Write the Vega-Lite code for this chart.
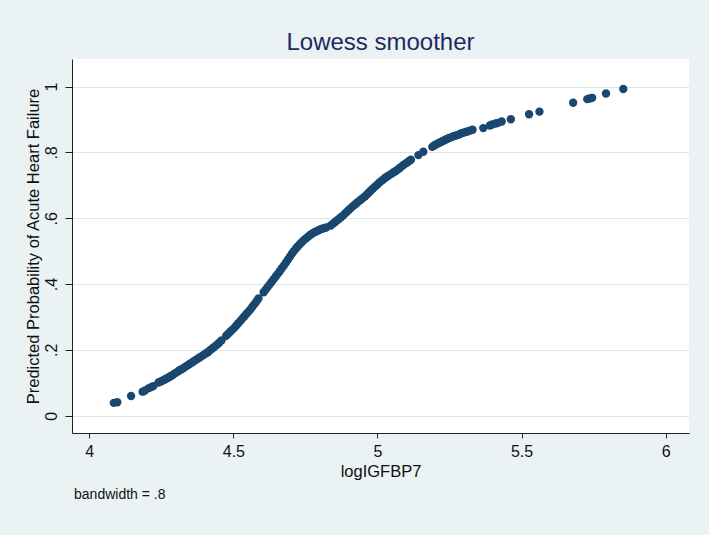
{
  "$schema": "https://vega.github.io/schema/vega-lite/v6.json",
  "width": 617,
  "height": 374,
  "autosize": {"type": "none"},
  "padding": {"left": 72, "top": 59, "right": 20, "bottom": 102},
  "background": "#EAF2F3",
  "title": {
    "text": "Lowess smoother",
    "font": "Liberation Sans",
    "fontSize": 24,
    "fontWeight": "normal",
    "color": "#1E2A5C",
    "anchor": "middle",
    "baseline": "alphabetic",
    "offset": 8,
    "dy": 23
  },
  "config": {
    "view": {"fill": "white", "stroke": null},
    "axis": {
      "labelFont": "Liberation Sans",
      "titleFont": "Liberation Sans",
      "labelColor": "#111111",
      "titleColor": "#111111",
      "domainColor": "#222222",
      "tickColor": "#222222",
      "labelFontSize": 16,
      "titleFontSize": 16.5,
      "titleFontWeight": "normal"
    }
  },
  "data": {
    "values": [
      {"logIGFBP7": 4.085, "p": 0.039}, {"logIGFBP7": 4.097, "p": 0.041},
      {"logIGFBP7": 4.145, "p": 0.060}, {"logIGFBP7": 4.185, "p": 0.073},
      {"logIGFBP7": 4.192, "p": 0.076}, {"logIGFBP7": 4.205, "p": 0.083},
      {"logIGFBP7": 4.215, "p": 0.087}, {"logIGFBP7": 4.222, "p": 0.090},
      {"logIGFBP7": 4.240, "p": 0.101}, {"logIGFBP7": 4.248, "p": 0.104},
      {"logIGFBP7": 4.255, "p": 0.107}, {"logIGFBP7": 4.262, "p": 0.110},
      {"logIGFBP7": 4.268, "p": 0.113}, {"logIGFBP7": 4.275, "p": 0.116},
      {"logIGFBP7": 4.281, "p": 0.120}, {"logIGFBP7": 4.288, "p": 0.123},
      {"logIGFBP7": 4.294, "p": 0.127}, {"logIGFBP7": 4.300, "p": 0.130},
      {"logIGFBP7": 4.307, "p": 0.134}, {"logIGFBP7": 4.313, "p": 0.138},
      {"logIGFBP7": 4.320, "p": 0.141}, {"logIGFBP7": 4.327, "p": 0.145},
      {"logIGFBP7": 4.334, "p": 0.149}, {"logIGFBP7": 4.341, "p": 0.153},
      {"logIGFBP7": 4.348, "p": 0.157}, {"logIGFBP7": 4.355, "p": 0.161},
      {"logIGFBP7": 4.362, "p": 0.165}, {"logIGFBP7": 4.369, "p": 0.169},
      {"logIGFBP7": 4.376, "p": 0.173}, {"logIGFBP7": 4.383, "p": 0.177},
      {"logIGFBP7": 4.390, "p": 0.181}, {"logIGFBP7": 4.397, "p": 0.185},
      {"logIGFBP7": 4.404, "p": 0.189}, {"logIGFBP7": 4.411, "p": 0.193},
      {"logIGFBP7": 4.418, "p": 0.198}, {"logIGFBP7": 4.425, "p": 0.203},
      {"logIGFBP7": 4.432, "p": 0.208}, {"logIGFBP7": 4.439, "p": 0.213},
      {"logIGFBP7": 4.446, "p": 0.218}, {"logIGFBP7": 4.452, "p": 0.223},
      {"logIGFBP7": 4.459, "p": 0.229},
      {"logIGFBP7": 4.475, "p": 0.243}, {"logIGFBP7": 4.482, "p": 0.249},
      {"logIGFBP7": 4.489, "p": 0.255}, {"logIGFBP7": 4.496, "p": 0.261},
      {"logIGFBP7": 4.503, "p": 0.267}, {"logIGFBP7": 4.510, "p": 0.274},
      {"logIGFBP7": 4.517, "p": 0.281}, {"logIGFBP7": 4.524, "p": 0.288},
      {"logIGFBP7": 4.531, "p": 0.295}, {"logIGFBP7": 4.538, "p": 0.302},
      {"logIGFBP7": 4.545, "p": 0.309}, {"logIGFBP7": 4.552, "p": 0.316},
      {"logIGFBP7": 4.559, "p": 0.323}, {"logIGFBP7": 4.566, "p": 0.331},
      {"logIGFBP7": 4.573, "p": 0.339}, {"logIGFBP7": 4.580, "p": 0.347},
      {"logIGFBP7": 4.587, "p": 0.356},
      {"logIGFBP7": 4.605, "p": 0.375}, {"logIGFBP7": 4.612, "p": 0.383},
      {"logIGFBP7": 4.619, "p": 0.391}, {"logIGFBP7": 4.626, "p": 0.399},
      {"logIGFBP7": 4.633, "p": 0.407}, {"logIGFBP7": 4.640, "p": 0.415},
      {"logIGFBP7": 4.647, "p": 0.423}, {"logIGFBP7": 4.654, "p": 0.431},
      {"logIGFBP7": 4.661, "p": 0.439}, {"logIGFBP7": 4.668, "p": 0.448},
      {"logIGFBP7": 4.675, "p": 0.456}, {"logIGFBP7": 4.682, "p": 0.465},
      {"logIGFBP7": 4.689, "p": 0.474}, {"logIGFBP7": 4.696, "p": 0.483},
      {"logIGFBP7": 4.703, "p": 0.492}, {"logIGFBP7": 4.710, "p": 0.500},
      {"logIGFBP7": 4.717, "p": 0.508}, {"logIGFBP7": 4.724, "p": 0.515},
      {"logIGFBP7": 4.731, "p": 0.522}, {"logIGFBP7": 4.738, "p": 0.528},
      {"logIGFBP7": 4.745, "p": 0.534}, {"logIGFBP7": 4.752, "p": 0.539},
      {"logIGFBP7": 4.759, "p": 0.544}, {"logIGFBP7": 4.766, "p": 0.549},
      {"logIGFBP7": 4.773, "p": 0.553}, {"logIGFBP7": 4.780, "p": 0.557},
      {"logIGFBP7": 4.787, "p": 0.560}, {"logIGFBP7": 4.794, "p": 0.563},
      {"logIGFBP7": 4.801, "p": 0.566}, {"logIGFBP7": 4.808, "p": 0.568},
      {"logIGFBP7": 4.815, "p": 0.570}, {"logIGFBP7": 4.822, "p": 0.572},
      {"logIGFBP7": 4.838, "p": 0.578}, {"logIGFBP7": 4.845, "p": 0.583},
      {"logIGFBP7": 4.852, "p": 0.588}, {"logIGFBP7": 4.859, "p": 0.593},
      {"logIGFBP7": 4.866, "p": 0.598}, {"logIGFBP7": 4.873, "p": 0.603},
      {"logIGFBP7": 4.880, "p": 0.608}, {"logIGFBP7": 4.887, "p": 0.614},
      {"logIGFBP7": 4.894, "p": 0.620}, {"logIGFBP7": 4.901, "p": 0.626},
      {"logIGFBP7": 4.908, "p": 0.631}, {"logIGFBP7": 4.915, "p": 0.637},
      {"logIGFBP7": 4.922, "p": 0.642}, {"logIGFBP7": 4.929, "p": 0.647},
      {"logIGFBP7": 4.936, "p": 0.652}, {"logIGFBP7": 4.943, "p": 0.657},
      {"logIGFBP7": 4.950, "p": 0.662}, {"logIGFBP7": 4.957, "p": 0.667},
      {"logIGFBP7": 4.964, "p": 0.673}, {"logIGFBP7": 4.971, "p": 0.679},
      {"logIGFBP7": 4.978, "p": 0.685}, {"logIGFBP7": 4.985, "p": 0.691},
      {"logIGFBP7": 4.992, "p": 0.697}, {"logIGFBP7": 4.999, "p": 0.702},
      {"logIGFBP7": 5.006, "p": 0.708}, {"logIGFBP7": 5.013, "p": 0.713},
      {"logIGFBP7": 5.020, "p": 0.718}, {"logIGFBP7": 5.027, "p": 0.723},
      {"logIGFBP7": 5.034, "p": 0.727}, {"logIGFBP7": 5.041, "p": 0.731},
      {"logIGFBP7": 5.048, "p": 0.735}, {"logIGFBP7": 5.055, "p": 0.739},
      {"logIGFBP7": 5.062, "p": 0.743}, {"logIGFBP7": 5.069, "p": 0.747},
      {"logIGFBP7": 5.076, "p": 0.752}, {"logIGFBP7": 5.083, "p": 0.757},
      {"logIGFBP7": 5.090, "p": 0.762}, {"logIGFBP7": 5.097, "p": 0.766},
      {"logIGFBP7": 5.104, "p": 0.770}, {"logIGFBP7": 5.110, "p": 0.774},
      {"logIGFBP7": 5.116, "p": 0.778},
      {"logIGFBP7": 5.142, "p": 0.792}, {"logIGFBP7": 5.159, "p": 0.802},
      {"logIGFBP7": 5.190, "p": 0.817}, {"logIGFBP7": 5.197, "p": 0.821},
      {"logIGFBP7": 5.204, "p": 0.825}, {"logIGFBP7": 5.211, "p": 0.828},
      {"logIGFBP7": 5.218, "p": 0.831}, {"logIGFBP7": 5.225, "p": 0.834},
      {"logIGFBP7": 5.232, "p": 0.837}, {"logIGFBP7": 5.239, "p": 0.840},
      {"logIGFBP7": 5.246, "p": 0.843}, {"logIGFBP7": 5.253, "p": 0.845},
      {"logIGFBP7": 5.260, "p": 0.848}, {"logIGFBP7": 5.267, "p": 0.850},
      {"logIGFBP7": 5.274, "p": 0.852}, {"logIGFBP7": 5.281, "p": 0.854},
      {"logIGFBP7": 5.288, "p": 0.857}, {"logIGFBP7": 5.295, "p": 0.859},
      {"logIGFBP7": 5.302, "p": 0.861}, {"logIGFBP7": 5.309, "p": 0.863},
      {"logIGFBP7": 5.316, "p": 0.865}, {"logIGFBP7": 5.323, "p": 0.867},
      {"logIGFBP7": 5.330, "p": 0.869},
      {"logIGFBP7": 5.367, "p": 0.874}, {"logIGFBP7": 5.390, "p": 0.882},
      {"logIGFBP7": 5.398, "p": 0.885}, {"logIGFBP7": 5.410, "p": 0.888},
      {"logIGFBP7": 5.418, "p": 0.890}, {"logIGFBP7": 5.431, "p": 0.894},
      {"logIGFBP7": 5.463, "p": 0.901}, {"logIGFBP7": 5.526, "p": 0.916},
      {"logIGFBP7": 5.562, "p": 0.924}, {"logIGFBP7": 5.679, "p": 0.951},
      {"logIGFBP7": 5.728, "p": 0.962}, {"logIGFBP7": 5.736, "p": 0.964},
      {"logIGFBP7": 5.745, "p": 0.966}, {"logIGFBP7": 5.793, "p": 0.979},
      {"logIGFBP7": 5.853, "p": 0.993}
    ]
  },
  "layer": [
    {
      "mark": {"type": "circle", "size": 70, "color": "#1A476F", "opacity": 1},
      "encoding": {
        "x": {
          "field": "logIGFBP7",
          "type": "quantitative",
          "title": "logIGFBP7",
          "scale": {"domain": [3.94, 6.081], "nice": false, "zero": false},
          "axis": {
            "values": [4, 4.5, 5, 5.5, 6],
            "format": "~g",
            "grid": false,
            "tickSize": 5,
            "labelPadding": 5,
            "titlePadding": 4
          }
        },
        "y": {
          "field": "p",
          "type": "quantitative",
          "title": "Predicted Probability of Acute Heart Failure",
          "scale": {"domain": [-0.0526, 1.084], "nice": false, "zero": false},
          "axis": {
            "values": [0, 0.2, 0.4, 0.6, 0.8, 1],
            "labelExpr": "datum.value == 0 ? '0' : datum.value == 1 ? '1' : '.' + toString(round(datum.value * 10))",
            "grid": true,
            "gridColor": "#DCE6E8",
            "gridWidth": 1,
            "tickSize": 7,
            "labelAngle": -90,
            "labelAlign": "center",
            "labelBaseline": "bottom",
            "labelPadding": 6,
            "titlePadding": 2
          }
        }
      }
    },
    {
      "data": {"values": [{"note": "bandwidth = .8"}]},
      "mark": {"type": "text", "align": "left", "baseline": "middle", "font": "Liberation Sans", "fontSize": 14, "color": "#111111", "clip": false},
      "encoding": {
        "x": {"datum": 3.947},
        "y": {"datum": -0.241},
        "text": {"field": "note"}
      }
    }
  ]
}
